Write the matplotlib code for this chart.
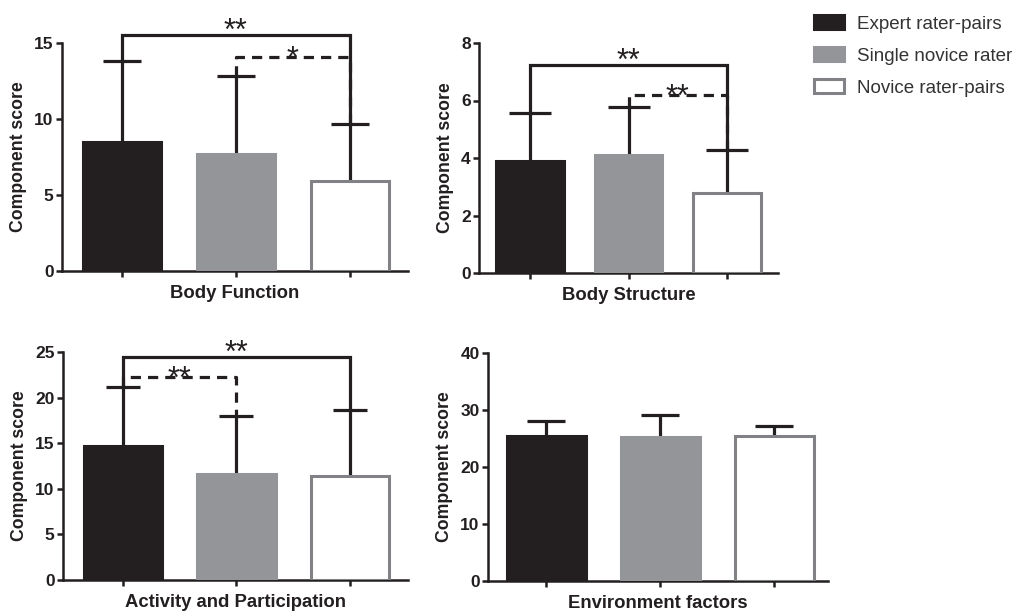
import numpy as np
import matplotlib
matplotlib.use("Agg")
import matplotlib.pyplot as plt
from matplotlib.patches import Patch

plt.rcParams['font.family'] = ['Liberation Sans', 'DejaVu Sans']

# Daten
groups = ['Expert rater-pairs', 'Single novice rater', 'Novice rater-pairs']
panels = ['Body Function', 'Body Structure', 'Activity and Participation', 'Environment factors']
means = {
    'Body Function': [8.5, 7.7, 5.9],
    'Body Structure': [3.9, 4.1, 2.8],
    'Activity and Participation': [14.7, 11.6, 11.4],
    'Environment factors': [25.4, 25.3, 25.4],
}
sds = {
    'Body Function': [5.3, 5.1, 3.75],
    'Body Structure': [1.65, 1.68, 1.47],
    'Activity and Participation': [6.45, 6.4, 7.25],
    'Environment factors': [2.65, 3.75, 1.8],
}
# (bar a, bar b, height, stars, dashed)
brackets = {
    'Body Function': [(0, 2, 15.5, '**', False), (1, 2, 14.1, '*', True)],
    'Body Structure': [(0, 2, 7.25, '**', False), (1, 2, 6.2, '**', True)],
    'Activity and Participation': [(0, 2, 24.4, '**', False), (0, 1, 22.3, '**', True)],
    'Environment factors': [],
}
ymax = {'Body Function': 15, 'Body Structure': 8,
        'Activity and Participation': 25, 'Environment factors': 40}
ystep = {'Body Function': 5, 'Body Structure': 2,
         'Activity and Participation': 5, 'Environment factors': 10}

dark = '#231f20'
face = [dark, '#939598', 'white']
edge = [dark, '#939598', '#808285']

W, H = 1021, 611
# Pixelrahmen der Achsen: links, rechts, oben, unten
boxes = [(62, 408, 43, 271), (479, 778, 43, 273), (63, 408, 352, 580), (488, 828, 353, 581)]
xlims = [(-0.526, 2.51), (-0.52, 2.52), (-0.526, 2.51), (-0.51, 2.47)]
capsizes = [13.7, 15.0, 12.5, 13.5]

fig = plt.figure(figsize=(W / 100, H / 100), dpi=100)

for name, (l, r, t, b), xl, cs in zip(panels, boxes, xlims, capsizes):
    ax = fig.add_axes([l / W, 1 - b / H, (r - l) / W, (b - t) / H])
    x = np.arange(3)
    m = np.array(means[name])
    s = np.array(sds[name])
    ax.bar(x, m, width=0.69, color=face, edgecolor=edge, linewidth=2.2, zorder=3)
    eb = ax.errorbar(x, m, yerr=[np.zeros(3), s], fmt='none', ecolor=dark,
                     elinewidth=2.3, capsize=cs, capthick=2.3, zorder=2)
    eb[1][0].set_visible(False)

    for a, c, h, star, dashed in brackets[name]:
        ls = (0, (3.2, 2.2)) if dashed else '-'
        ax.plot([x[a], x[a], x[c], x[c]],
                [m[a] + s[a], h, h, m[c] + s[c]],
                color=dark, lw=2.3, ls=ls, clip_on=False, zorder=4,
                solid_joinstyle='miter')
        ax.annotate(star, xy=((x[a] + x[c]) / 2, h), xytext=(0, -8 if dashed else -3.5),
                    textcoords='offset points', ha='center', va='baseline',
                    fontsize=22, color=dark, annotation_clip=False, zorder=5)

    ax.set_xlim(*xl)
    ax.set_ylim(0, ymax[name])
    ax.set_yticks(np.arange(0, ymax[name] + 0.1, ystep[name]))
    ax.set_xticks(x)
    ax.set_xticklabels([])
    for sp in ['top', 'right']:
        ax.spines[sp].set_visible(False)
    for sp in ['left', 'bottom']:
        ax.spines[sp].set_linewidth(1.8)
        ax.spines[sp].set_color(dark)
    ax.tick_params(direction='out', length=4.5, width=1.8, color=dark, pad=1.5,
                   labelsize=12.5, labelcolor=dark)
    for lab in ax.get_yticklabels():
        lab.set_fontweight('bold')
    ax.set_xlabel(name, fontsize=13.3, fontweight='bold', color=dark, labelpad=4)
    ax.set_ylabel('Component score', fontsize=12.7, fontweight='bold', color=dark, labelpad=5)

handles = [Patch(facecolor=face[i], edgecolor=edge[i], linewidth=2.2) for i in range(3)]
fig.legend(handles, groups, loc='upper left', bbox_to_anchor=(814 / W, 1 - 15 / H),
           frameon=False, fontsize=13.5, handlelength=1.6, handleheight=0.8,
           handletextpad=0.7, labelspacing=0.76, borderpad=0, borderaxespad=0,
           labelcolor='#333333')

fig.savefig('out.png', dpi=100, facecolor='white')
